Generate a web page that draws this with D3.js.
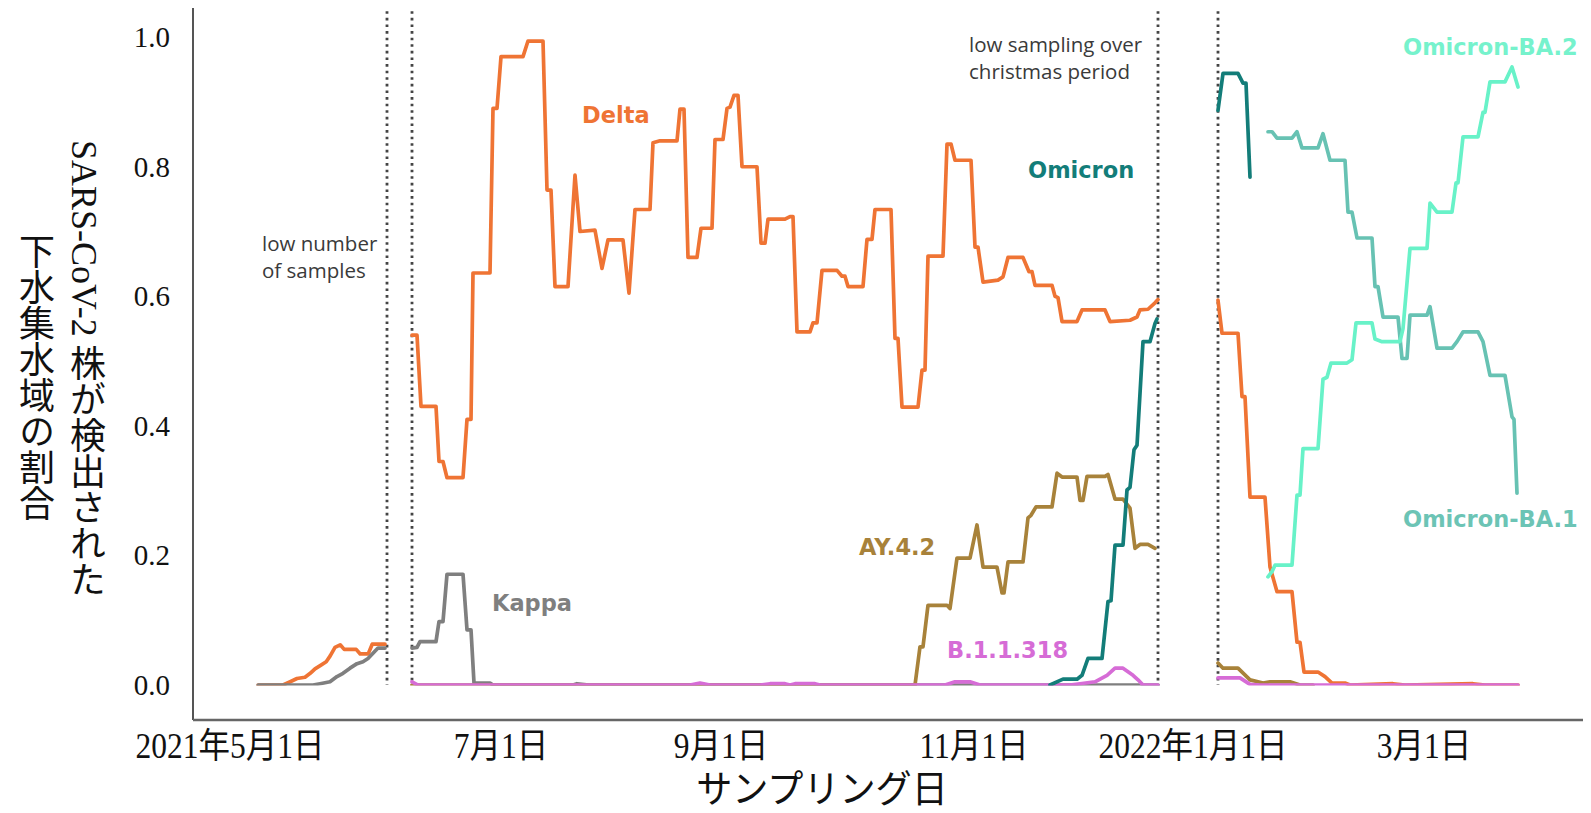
<!DOCTYPE html>
<html>
<head>
<meta charset="utf-8">
<script src="https://cdn.jsdelivr.net/npm/d3@7"></script>
<style>
  body { margin: 0; background: #fff; }
  svg { display: block; }
  .y.axis text { font-family: "Liberation Serif", serif; font-size: 29px; fill: #111; }
  .x-tick { font-family: "Liberation Serif", "Noto Sans CJK JP", serif; font-size: 35px; fill: #111; }
  .x-title { font-family: "Noto Sans CJK JP", sans-serif; font-size: 38px; fill: #111; }
  .y-title { font-family: "Liberation Serif", "Noto Sans CJK JP", serif; font-size: 36px; fill: #111;
             writing-mode: vertical-rl; text-orientation: mixed; }
  .series-label { font-family: "DejaVu Sans", sans-serif; font-weight: bold; font-size: 22.5px; }
  .note { font-family: "Open Sans", sans-serif; font-size: 20.5px; fill: #3a3a3a; }
</style>
</head>
<body>
<svg class="lineage-plot" width="1591" height="813"></svg>
<script>
/**********************
 Data (x = days, y = share)
**********************/
// null value = break in the sampling (dotted lines)
var deltaData = [
  [16.3,0],[22.5,0],[24.3,0.005],[26,0.01],[28,0.012],[29.3,0.018],[30.5,0.025],[31.8,0.03],
  [33.3,0.036],[34.3,0.045],[35.5,0.058],[36.8,0.062],[37.8,0.055],[40.8,0.055],[41.8,0.048],
  [43.8,0.048],[44.8,0.063],[48,0.063],
  [51,null],
  [54.75,0.54],[56,0.54],[57,0.43],[60.75,0.43],[61.5,0.345],[62.5,0.345],[63.5,0.32],[67.5,0.32],
  [68.5,0.41],[69.5,0.41],[70,0.636],[74.25,0.636],[75,0.89],[76,0.89],[77,0.97],[82.5,0.97],
  [83.75,0.994],[87.5,0.994],[88.5,0.764],[89.5,0.764],[90.5,0.615],[93.75,0.615],[95.5,0.787],
  [96.75,0.70],[100.5,0.702],[102.25,0.643],[103.75,0.687],[107.5,0.687],[109,0.605],[110.5,0.734],
  [114.25,0.734],[115,0.837],[116.75,0.84],[121,0.84],[121.75,0.889],[122.75,0.889],[123.75,0.66],
  [126,0.66],[127,0.705],[129.75,0.705],[130.5,0.842],[132.5,0.842],[133.5,0.89],[134.25,0.892],
  [135.25,0.91],[136.25,0.91],[137.25,0.80],[141,0.80],[142,0.682],[143,0.682],[143.75,0.719],
  [148,0.719],[149.25,0.723],[150,0.723],[151,0.545],[154.25,0.545],[155,0.559],[156,0.559],
  [157.25,0.64],[161,0.64],[162.25,0.631],[163,0.631],[163.75,0.615],[167.5,0.615],[168.5,0.688],
  [169.75,0.688],[170.5,0.734],[174.5,0.734],[175.5,0.535],[176.25,0.535],[177.25,0.429],
  [181.25,0.429],[182.25,0.486],[183,0.486],[183.75,0.662],[187.5,0.662],[188.5,0.835],[189.5,0.835],
  [190.5,0.81],[194.5,0.81],[195.5,0.676],[196.25,0.676],[197.5,0.622],[201.25,0.625],[202.5,0.63],
  [203.75,0.66],[207.5,0.66],[209,0.638],[209.75,0.638],[210.5,0.617],[214.75,0.617],[215.5,0.60],
  [216.25,0.598],[217.25,0.561],[221,0.561],[222.25,0.579],[228,0.579],[229.25,0.561],[234.25,0.563],
  [236,0.568],[236.75,0.579],[238.75,0.58],[240.5,0.59],[241.25,0.595],
  [248,null],
  [256.25,0.594],[257.25,0.543],[261.25,0.543],[262.25,0.445],[263,0.445],[264.25,0.29],[268,0.29],
  [269.25,0.182],[271,0.144],[274.75,0.144],[276,0.066],[276.75,0.066],[277.75,0.02],[281.25,0.02],
  [283,0.013],[284.75,0.003],[288,0.003],[289.25,0],[300,0.002],[303,0],[320,0.002],[323,0],[331.25,0]
];

var kappaData = [
  [16.3,0],[30,0],[31.75,0.002],[34.25,0.005],[36,0.013],[37.5,0.018],[39.25,0.026],[41,0.033],
  [42.5,0.036],[43.75,0.041],[45,0.049],[46.25,0.057],[48,0.057],
  [51,null],
  [54.75,0.057],[56,0.058],[56.75,0.067],[60.75,0.067],[61.5,0.098],[62.5,0.098],[63.5,0.171],
  [67.5,0.171],[68.5,0.085],[69.5,0.085],[70.25,0.003],[74.25,0.003],[75,0],[95,0],[96,0.002],
  [99,0],[241.25,0]
];

var ay42Data = [
  [54.75,0],[180.5,0],[181.75,0.059],[182.5,0.059],[183.75,0.123],[188.5,0.123],[189.25,0.118],
  [191,0.196],[194.25,0.196],[196,0.247],[197.5,0.182],[201,0.182],[202.25,0.142],[202.75,0.142],
  [203.75,0.19],[207.5,0.19],[208.75,0.258],[209.5,0.262],[210.75,0.275],[214.75,0.275],[216,0.327],
  [217.25,0.321],[221,0.321],[221.75,0.285],[222.5,0.285],[223.5,0.322],[228,0.322],[228.75,0.325],
  [230.5,0.287],[232.5,0.287],[234.25,0.273],[235.5,0.211],[236.75,0.217],[238.75,0.217],[240.5,0.211],
  [248,null],
  [256.25,0.034],[257.5,0.026],[261.25,0.026],[264.25,0.008],[267.5,0.003],[269.25,0.005],
  [274.25,0.005],[276.75,0],[280,0]
];

var b11318Data = [
  [54.75,0.005],[56.25,0],[124.25,0],[126.75,0.003],[129.25,0],[141.75,0],[144.25,0.002],[148,0.002],
  [149.25,0],[150.5,0.002],[155.5,0.002],[156.75,0],[188,0],[190.5,0.005],[194.25,0.005],[196.75,0],
  [219.25,0],[221.75,0.002],[225.5,0.005],[228.5,0.015],[230.5,0.026],[232.5,0.026],[235,0.015],
  [236.25,0.008],[237.5,0],[241.25,0],
  [248,null],
  [256.25,0.011],[261.75,0.011],[264.25,0.001],[266.75,0],[331.25,0]
];

var omicronData = [
  [214.25,0],[217.5,0.009],[221,0.009],[222.25,0.015],[223.75,0.041],[227.25,0.041],[228.75,0.129],
  [229.5,0.13],[230.5,0.216],[232.5,0.216],[233.5,0.301],[234.25,0.305],[235.25,0.363],[236,0.37],
  [237.5,0.53],[239.25,0.53],[240.5,0.558],[241,0.565],
  [248,null],
  [256.25,0.887],[257.5,0.944],[261.25,0.944],[262.5,0.929],[263.25,0.929],[264.25,0.784]
];

var ba1Data = [
  [268.75,0.854],[269.75,0.854],[271,0.844],[274.75,0.844],[276,0.854],[277.25,0.829],[281.25,0.829],
  [282.5,0.851],[284.25,0.81],[288,0.81],[288.75,0.73],[289.75,0.73],[291,0.69],[294.75,0.69],
  [295.5,0.615],[296.25,0.615],[297.5,0.568],[301.25,0.568],[302.25,0.504],[303.5,0.504],
  [304.25,0.571],[308.5,0.571],[309.25,0.584],[311,0.52],[314.75,0.52],[316,0.53],[317.5,0.545],
  [321.25,0.545],[322.5,0.53],[324.25,0.478],[328,0.478],[329.75,0.414],[330.25,0.41],[331,0.296]
];

var ba2Data = [
  [268.75,0.167],[269.75,0.175],[270.5,0.185],[274.75,0.185],[276,0.293],[276.75,0.293],[277.5,0.365],
  [281.25,0.365],[282.5,0.472],[283.5,0.475],[284.5,0.497],[288.5,0.497],[289.75,0.502],[290.75,0.559],
  [294.75,0.559],[295.5,0.534],[297.25,0.53],[301.75,0.53],[302.5,0.55],[304.25,0.674],[308.5,0.674],
  [309.25,0.744],[311,0.73],[314.75,0.73],[315.75,0.775],[316.25,0.775],[317.5,0.846],[321.25,0.846],
  [322.5,0.884],[323,0.884],[324.25,0.931],[328,0.931],[329.75,0.954],[331.25,0.923]
];

// gaps in sampling, drawn as dotted lines
var breakDays = [48.5, 54.75, 241.25, 256.25];

// x ticks (day position, label)
var tickDays = [9.25, 77, 132, 195.25, 250, 307.75];
var tickLabels = ['2021年5月1日', '7月1日', '9月1日', '11月1日', '2022年1月1日', '3月1日'];
var yTicks = [0, 0.2, 0.4, 0.6, 0.8, 1.0];

var seriesNames = ['Delta', 'Kappa', 'AY.4.2', 'B.1.1.318', 'Omicron', 'Omicron-BA.1', 'Omicron-BA.2'];
var seriesData = [deltaData, kappaData, ay42Data, b11318Data, omicronData, ba1Data, ba2Data];
var seriesColors = ['#ef7434', '#7f7f7f', '#a8823a', '#d66cd6', '#137d79', '#67c2b3', '#68f2c8'];
var labelColors = ['#ef7434', '#7f7f7f', '#a8823a', '#d66cd6', '#137d79', '#6cc4b5', '#76f2cc'];
// label anchor (day, share at text baseline)
var labelDays = [97.25, 74.75, 166.5, 188.5, 208.75, 302.5, 302.5];
var labelShares = [0.867, 0.114, 0.2, 0.042, 0.782, 0.244, 0.972];


/**********************
 SVG + scales
**********************/
var svg = d3.select('svg.lineage-plot');
var frame = {l: 193, r: 1583, t: 8, b: 720};

var xScale = d3.scaleLinear().domain([0, 347.5]).range([frame.l, frame.r]);
var yScale = d3.scaleLinear().domain([-0.054, 1.045]).range([frame.b, frame.t]);

// clip just under zero so flat zero runs look thin, like the original
svg.append('clipPath').attr('id', 'plot-clip')
  .append('rect')
  .attr('x', frame.l).attr('y', frame.t)
  .attr('width', frame.r - frame.l)
  .attr('height', yScale(0) + 0.5 - frame.t);

// dotted break lines
svg.selectAll('.break')
  .data(breakDays)
  .enter().append('line')
  .attr('class', 'break')
  .attr('x1', function(d) { return xScale(d); })
  .attr('x2', function(d) { return xScale(d); })
  .attr('y1', yScale(1.04))
  .attr('y2', yScale(0))
  .attr('stroke', '#444')
  .attr('stroke-width', 2.8)
  .attr('stroke-dasharray', '2.6 4');

// lines
var line = d3.line()
  .defined(function(d) { return d[1] !== null; })
  .x(function(d) { return xScale(d[0]); })
  .y(function(d) { return yScale(d[1]); });

var linesG = svg.append('g').attr('clip-path', 'url(#plot-clip)');
linesG.selectAll('path.series')
  .data(seriesData)
  .enter().append('path')
  .attr('class', 'series')
  .attr('d', line)
  .attr('fill', 'none')
  .attr('stroke', function(d, i) { return seriesColors[i]; })
  .attr('stroke-width', 3.7)
  .attr('stroke-linejoin', 'round')
  .attr('stroke-linecap', 'round');

// series labels
svg.selectAll('.series-label')
  .data(seriesNames)
  .enter().append('text')
  .attr('class', 'series-label')
  .attr('x', function(d, i) { return xScale(labelDays[i]); })
  .attr('y', function(d, i) { return yScale(labelShares[i]); })
  .attr('fill', function(d, i) { return labelColors[i]; })
  .text(function(d) { return d; });

// notes
var note1 = svg.append('text').attr('class', 'note')
  .attr('x', xScale(17.25)).attr('y', yScale(0.670));
note1.append('tspan').text('low number');
note1.append('tspan').attr('x', xScale(17.25)).attr('dy', 27).text('of samples');

var note2 = svg.append('text').attr('class', 'note')
  .attr('x', xScale(194)).attr('y', yScale(0.977));
note2.append('tspan').text('low sampling over');
note2.append('tspan').attr('x', xScale(194)).attr('dy', 27).text('christmas period');


/**********************
 Axes
**********************/
svg.append('line')
  .attr('x1', frame.l).attr('x2', frame.l)
  .attr('y1', frame.t).attr('y2', frame.b)
  .attr('stroke', '#555').attr('stroke-width', 2);
svg.append('line')
  .attr('x1', frame.l).attr('x2', frame.r)
  .attr('y1', frame.b).attr('y2', frame.b)
  .attr('stroke', '#666').attr('stroke-width', 2.5);

var yAxisG = svg.append('g')
  .attr('class', 'y axis')
  .attr('transform', 'translate(' + frame.l + ',0)')
  .call(d3.axisLeft(yScale).tickValues(yTicks).tickSize(0).tickPadding(23).tickFormat(d3.format('.1f')));
yAxisG.select('.domain').remove();

svg.selectAll('.x-tick')
  .data(tickLabels)
  .enter().append('text')
  .attr('class', 'x-tick')
  .attr('text-anchor', 'middle')
  .attr('transform', function(d, i) {
    return 'translate(' + xScale(tickDays[i]) + ',758) scale(0.9,1)';
  })
  .text(function(d) { return d; });

svg.append('text')
  .attr('class', 'x-title')
  .attr('text-anchor', 'middle')
  .attr('transform', 'translate(822,802) scale(0.95,1)')
  .text('サンプリング日');

svg.append('text')
  .attr('class', 'y-title')
  .attr('x', 84).attr('y', 140)
  .text('SARS-CoV-2 株が検出された');
svg.append('text')
  .attr('class', 'y-title')
  .attr('x', 33).attr('y', 233)
  .text('下水集水域の割合');
</script>
</body>
</html>
